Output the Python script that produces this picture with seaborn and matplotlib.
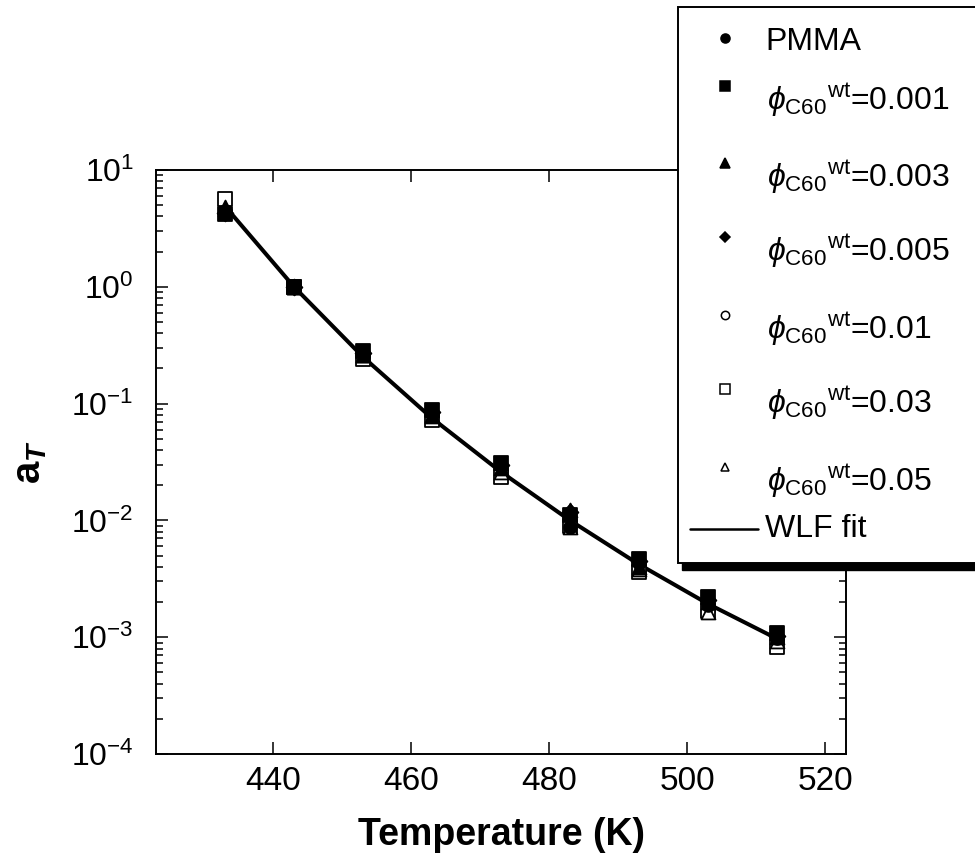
import matplotlib
matplotlib.use("Agg")
import matplotlib.pyplot as plt
from matplotlib.lines import Line2D
from matplotlib.patches import Rectangle
from matplotlib.ticker import FixedLocator, LogLocator, NullLocator
import seaborn as sns

# Shift factors a_T versus temperature for PMMA and C60-filled PMMA
temperature = [433, 443, 453, 463, 473, 483, 493, 503, 513]
pmma = [4.5, 1.0, 0.27, 0.082, 0.029, 0.0088, 0.0043, 0.0019, 0.00098]
phi_0001 = [4.2, 1.0, 0.28, 0.088, 0.031, 0.0112, 0.0047, 0.0022, 0.00108]
phi_0003 = [4.6, 1.0, 0.26, 0.080, 0.028, 0.0123, 0.0040, 0.0020, 0.00100]
phi_0005 = [4.3, 1.0, 0.27, 0.084, 0.030, 0.0118, 0.0045, 0.0021, 0.00103]
phi_001 = [4.4, 1.0, 0.25, 0.078, 0.027, 0.0095, 0.0037, 0.0017, 0.00095]
phi_003 = [5.6, 1.0, 0.24, 0.073, 0.0236, 0.0090, 0.0036, 0.00168, 0.00082]
phi_005 = [4.8, 1.0, 0.26, 0.079, 0.026, 0.0087, 0.0038, 0.00165, 0.00092]
wlf_fit = [4.9, 1.0, 0.251, 0.075, 0.026, 0.0100, 0.0042, 0.00193, 0.00097]

series_labels = ["PMMA",
                 r"$\phi_{\mathrm{C60}}{}^{\mathrm{wt}}$=0.001",
                 r"$\phi_{\mathrm{C60}}{}^{\mathrm{wt}}$=0.003",
                 r"$\phi_{\mathrm{C60}}{}^{\mathrm{wt}}$=0.005",
                 r"$\phi_{\mathrm{C60}}{}^{\mathrm{wt}}$=0.01",
                 r"$\phi_{\mathrm{C60}}{}^{\mathrm{wt}}$=0.03",
                 r"$\phi_{\mathrm{C60}}{}^{\mathrm{wt}}$=0.05"]
fit_label = "WLF fit"
x_ticks = [440, 460, 480, 500, 520]

series_values = [pmma, phi_0001, phi_0003, phi_0005, phi_001, phi_003, phi_005]
series_markers = ["o", "s", "^", "D", "o", "s", "^"]
series_faces = ["black", "black", "black", "black", "white", "white", "white"]
series_sizes = [85, 100, 100, 65, 85, 100, 100]
legend_sizes = [6.5, 6.5, 6.5, 5.0, 6.0, 7.0, 6.0]

sns.set_theme(style="ticks")
plt.rcParams["font.family"] = ["Liberation Sans", "DejaVu Sans"]
plt.rcParams["mathtext.fontset"] = "custom"
plt.rcParams["mathtext.rm"] = "Liberation Sans"
plt.rcParams["mathtext.it"] = "Liberation Sans:italic"
plt.rcParams["mathtext.bf"] = "Liberation Sans:bold"
plt.rcParams["mathtext.bfit"] = "Liberation Sans:italic:bold"
plt.rcParams["axes.unicode_minus"] = False
for key in ["text.color", "axes.labelcolor", "xtick.color", "ytick.color",
            "xtick.labelcolor", "ytick.labelcolor"]:
    plt.rcParams[key] = "black"

W, H = 975, 856
fig = plt.figure(figsize=(W / 100, H / 100), dpi=100)
fig.patch.set_facecolor("white")

left, right, top, bottom = 156, 846, 170, 754
ax = fig.add_axes([left / W, 1 - bottom / H, (right - left) / W, (bottom - top) / H])
ax.set_facecolor("white")

# WLF fit curve
sns.lineplot(x=temperature, y=wlf_fit, color="black", linewidth=2.9, ax=ax,
             legend=False, zorder=2)

# measured shift factors: open symbols first, filled symbols on top
order = [4, 5, 6, 0, 1, 2, 3]
for i in order:
    sns.scatterplot(x=temperature, y=series_values[i], marker=series_markers[i],
                    s=series_sizes[i], color=series_faces[i], edgecolor="black",
                    linewidth=1.3, ax=ax, legend=False, zorder=3)

ax.set_yscale("log")
ax.set_xlim(423, 523)
ax.set_ylim(1e-4, 1e1)
ax.xaxis.set_major_locator(FixedLocator(x_ticks))
ax.xaxis.set_minor_locator(NullLocator())
ax.yaxis.set_major_locator(LogLocator(base=10, numticks=10))
ax.yaxis.set_minor_locator(LogLocator(base=10, subs=range(2, 10), numticks=20))

for sp in ax.spines.values():
    sp.set_visible(True)
    sp.set_linewidth(1.4)
    sp.set_color("black")

ax.tick_params(axis="both", which="both", direction="in", top=True, right=True,
               color="black", width=1.1)
ax.tick_params(axis="both", which="major", length=8.6)
ax.tick_params(axis="both", which="minor", length=5)
ax.tick_params(axis="x", which="major", labelsize=24, pad=9)
ax.tick_params(axis="y", which="major", labelsize=23, pad=16)

ax.set_xlabel("Temperature (K)", fontsize=27, fontweight="bold")
ax.xaxis.set_label_coords(0.5, -0.108)
ax.xaxis.label.set_va("top")
ax.set_ylabel(r"$\mathbf{a}_{\mathbfit{T}}$", fontsize=29)
ax.yaxis.set_label_coords(-0.155, 0.5)


def fx(px):
    return px / W


def fy(py):
    return 1 - py / H


# legend panel with drop shadow, extending past the right edge
box_l, box_t, box_b = 678, 7, 563
fig.add_artist(Rectangle((fx(box_l + 4), fy(box_b + 7)), fx(1010 - box_l), (box_b - box_t) / H,
                         transform=fig.transFigure, facecolor="black", edgecolor="black",
                         zorder=5))
fig.add_artist(Rectangle((fx(box_l), fy(box_b)), fx(1010 - box_l), (box_b - box_t) / H,
                         transform=fig.transFigure, facecolor="white", edgecolor="black",
                         linewidth=1.4, zorder=6))

marker_y = [38, 86, 163, 237, 315, 389, 467]
for i, (lab, m, fc, ms) in enumerate(zip(series_labels, series_markers, series_faces, legend_sizes)):
    y = marker_y[i]
    fig.add_artist(Line2D([fx(725)], [fy(y)], marker=m, markersize=ms, markerfacecolor=fc,
                          markeredgecolor="black", markeredgewidth=1.1, linestyle="none",
                          transform=fig.transFigure, zorder=7))
    if i == 0:
        fig.text(fx(765), fy(y + 12), lab, fontsize=23, va="baseline", ha="left", zorder=7)
    else:
        fig.text(fx(767), fy(y + 24), lab, fontsize=23, va="baseline", ha="left", zorder=7)

line_y = 529
fig.add_artist(Line2D([fx(690), fx(758)], [fy(line_y), fy(line_y)], color="black",
                      linewidth=1.8, transform=fig.transFigure, zorder=7))
fig.text(fx(765), fy(line_y), fit_label, fontsize=23, va="center", ha="left", zorder=7)

fig.savefig("out.png", dpi=100, facecolor="white")
